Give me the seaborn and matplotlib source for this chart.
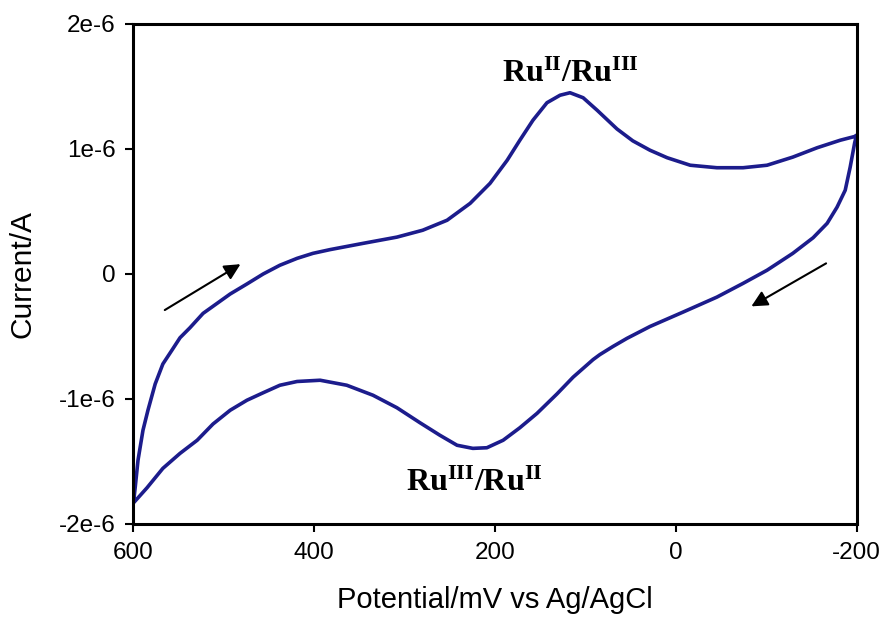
import matplotlib
matplotlib.use("Agg")
import matplotlib.pyplot as plt
import seaborn as sns
import pandas as pd

# Forward (anodic) sweep: potential in mV, current in microamps
fwd_potential = [600, 598, 595, 589.5, 584, 576, 567.5, 557.5, 548.5, 537.5, 523, 507.5,
                 493, 474.5, 456.5, 438, 419, 401.5, 382.5, 346, 308.5, 280, 253, 227.5,
                 205.5, 186.5, 172.5, 158, 142.5, 128, 117, 102.5, 87, 76, 65, 47.5,
                 28.5, 9.5, -16, -45.5, -74.5, -101, -129.5, -156.5, -182, -198, -200]
fwd_current = [-1.83, -1.70, -1.49, -1.25, -1.09, -0.88, -0.72, -0.61, -0.51, -0.43,
               -0.315, -0.235, -0.16, -0.08, 0.0, 0.07, 0.125, 0.165, 0.195, 0.245,
               0.295, 0.35, 0.43, 0.565, 0.725, 0.91, 1.07, 1.23, 1.37, 1.43, 1.45,
               1.41, 1.31, 1.235, 1.16, 1.065, 0.99, 0.93, 0.87, 0.85, 0.85, 0.87,
               0.935, 1.01, 1.07, 1.10, 1.11]

# Reverse (cathodic) sweep
rev_potential = [-200, -198, -193, -187.5, -178.5, -167.5, -152, -129.5, -101, -74.5,
                 -45.5, -8, 28.5, 54, 69.5, 84, 91.5, 113.5, 131.5, 153.5, 172.5, 191,
                 209, 224.5, 242, 261, 283, 308.5, 335, 364, 393.5, 419, 438, 456.5,
                 474.5, 493, 512, 529.5, 548.5, 567.5, 585, 598, 600]
rev_current = [1.11, 1.05, 0.855, 0.67, 0.535, 0.405, 0.29, 0.165, 0.03, -0.075,
               -0.185, -0.305, -0.42, -0.515, -0.58, -0.645, -0.685, -0.825, -0.96,
               -1.115, -1.23, -1.33, -1.39, -1.395, -1.37, -1.29, -1.19, -1.07, -0.97,
               -0.89, -0.85, -0.86, -0.89, -0.95, -1.01, -1.09, -1.20, -1.33, -1.435,
               -1.555, -1.71, -1.815, -1.83]

x_ticks = [600, 400, 200, 0, -200]
y_ticks = [2e-6, 1e-6, 0, -1e-6, -2e-6]
y_tick_labels = ["2e-6", "1e-6", "0", "-1e-6", "-2e-6"]

potential = fwd_potential + rev_potential
current = [c * 1e-6 for c in fwd_current + rev_current]
cv = pd.DataFrame({"potential": potential, "current": current})

sns.set_theme(style="white")
plt.rcParams["font.family"] = ["Liberation Sans", "DejaVu Sans"]
plt.rcParams["axes.unicode_minus"] = False
plt.rcParams["mathtext.fontset"] = "custom"
plt.rcParams["mathtext.bf"] = "Liberation Serif:bold"
plt.rcParams["mathtext.rm"] = "Liberation Serif"

fig = plt.figure(figsize=(8.84, 6.21), dpi=100)
ax = fig.add_axes([0.1510, 0.1562, 0.8179, 0.8052])

sns.lineplot(data=cv, x="potential", y="current", sort=False, estimator=None,
             color="#1c1c8c", linewidth=2.6, ax=ax)
ax.lines[0].set_solid_joinstyle("round")
ax.lines[0].set_solid_capstyle("round")

ax.set_xlim(600, -200)
ax.set_ylim(-2e-6, 2e-6)
ax.set_xticks(x_ticks)
ax.set_xticklabels([str(v) for v in x_ticks])
ax.set_yticks(y_ticks)
ax.set_yticklabels(y_tick_labels)

for side in ["left", "right", "top", "bottom"]:
    ax.spines[side].set_visible(True)
    ax.spines[side].set_color("black")
    ax.spines[side].set_linewidth(2.2)

ax.tick_params(axis="both", which="major", direction="out", length=6, width=1.5,
               labelsize=17.5, colors="black", pad=7, left=True, bottom=True,
               top=False, right=False)

ax.set_xlabel("Potential/mV vs Ag/AgCl", fontsize=21, labelpad=16, color="black")
ax.set_ylabel("Current/A", fontsize=21.5, labelpad=16, color="black")

# Peak labels
ax.text(117, 1.60e-6, r"$\mathbf{Ru^{II}/Ru^{III}}$", fontsize=23,
        ha="center", va="center", color="black")
ax.text(223, -1.675e-6, r"$\mathbf{Ru^{III}/Ru^{II}}$", fontsize=23,
        ha="center", va="center", color="black")

# Sweep direction arrows
arrow_style = dict(arrowstyle="-|>", color="black", lw=1.5, mutation_scale=24)
ax.annotate("", xy=(479, 0.09e-6), xytext=(568, -0.30e-6), arrowprops=arrow_style)
ax.annotate("", xy=(-81, -0.27e-6), xytext=(-169, 0.096e-6), arrowprops=arrow_style)

fig.savefig("out.png", dpi=100, facecolor="white")
